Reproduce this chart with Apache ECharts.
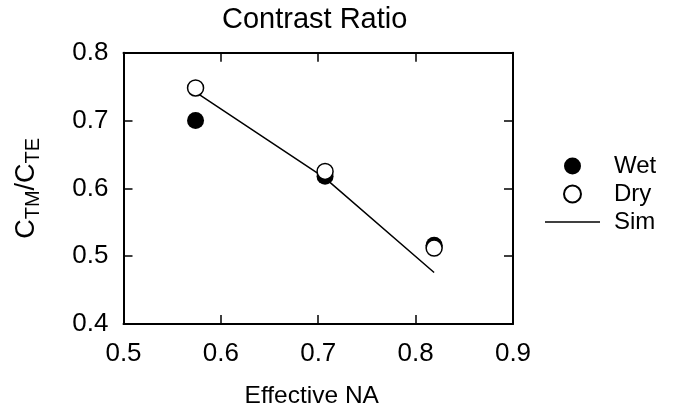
<!DOCTYPE html>
<html lang="en">
<head>
	<meta charset="UTF-8">
	<title>Contrast Ratio</title>
	<style>
		html, body { margin: 0; padding: 0; background: #fff; }
	</style>
</head>
<body>
	<div id="chart" style="width:676px;height:415px;"></div>
<script src="https://cdn.jsdelivr.net/npm/echarts@6/dist/echarts.min.js"></script>
<script>
	// data
	var naValues = [0.574, 0.707, 0.819];
	var wetValues = [0.700, 0.618, 0.516];
	var dryValues = [0.748, 0.625, 0.512];
	var simValues = [0.742, 0.615, 0.476];
	var seriesNames = ['Wet', 'Dry', 'Sim'];

	var font = 'Liberation Sans, Arial, sans-serif';

	function pairs(xs, ys) {
		var out = [];
		for (var i = 0; i < xs.length; i++) out.push([xs[i], ys[i]]);
		return out;
	}

	var chart = echarts.init(document.getElementById('chart'));
	var tick = { show: true, inside: true, length: 9, lineStyle: { color: '#000', width: 1.5 } };
	var axisLine = { show: true, onZero: false, lineStyle: { color: '#000', width: 2 } };

	var option = {
		animation: false,
		backgroundColor: '#fff',
		title: {
			text: 'Contrast Ratio',
			left: 217,
			top: 0,
			textStyle: { fontFamily: font, fontSize: 29, fontWeight: 'normal', color: '#000' }
		},
		legend: {
			orient: 'vertical',
			left: 540,
			top: 149,
			itemWidth: 55,
			itemHeight: 17,
			itemGap: 4,
			data: [
				{ name: seriesNames[0] },
				{ name: seriesNames[1] },
				{ name: seriesNames[2], icon: 'path://M0,0 L55,0 L55,1.5 L0,1.5 Z' }
			],
			textStyle: { fontFamily: font, fontSize: 24, color: '#000', padding: [0, 0, 0, 9] }
		},
		grid: { left: 123.5, right: 163, top: 52.7, bottom: 91 },
		xAxis: [{
			type: 'value', min: 0.5, max: 0.9, interval: 0.1,
			name: 'Effective NA', nameLocation: 'middle', nameGap: 60,
			nameTextStyle: { fontFamily: font, fontSize: 24.5, color: '#000', padding: [0, 13, 0, 0] },
			axisLine: axisLine, axisTick: tick, splitLine: { show: false },
			axisLabel: { fontFamily: font, fontSize: 26, color: '#000', margin: 17,
				formatter: function (v) { return v.toFixed(1); } }
		}, {
			type: 'value', position: 'top', min: 0.5, max: 0.9, interval: 0.1,
			axisLine: axisLine, axisTick: tick, splitLine: { show: false }, axisLabel: { show: false }
		}],
		yAxis: [{
			type: 'value', min: 0.4, max: 0.8, interval: 0.1,
			name: '{c|C}{s|TM}{c|/C}{s|TE}', nameLocation: 'middle', nameGap: 80, nameRotate: 90,
			nameTextStyle: {
				fontFamily: font, color: '#000',
				rich: {
					c: { fontFamily: font, fontSize: 27, color: '#000' },
					s: { fontFamily: font, fontSize: 20, color: '#000', padding: [14, 0, 0, 0] }
				}
			},
			axisLine: axisLine, axisTick: tick, splitLine: { show: false },
			axisLabel: { fontFamily: font, fontSize: 26, color: '#000', margin: 15,
				formatter: function (v) { return v.toFixed(1); } }
		}, {
			type: 'value', position: 'right', min: 0.4, max: 0.8, interval: 0.1,
			axisLine: axisLine, axisTick: tick, splitLine: { show: false }, axisLabel: { show: false }
		}],
		series: [{
			name: 'Wet', type: 'scatter', symbol: 'circle', symbolSize: 17,
			itemStyle: { color: '#000', opacity: 1 },
			data: pairs(naValues, wetValues), z: 3
		}, {
			name: 'Dry', type: 'scatter', symbol: 'circle', symbolSize: 16,
			itemStyle: { color: '#fff', borderColor: '#000', borderWidth: 1.5, opacity: 1 },
			data: pairs(naValues, dryValues), z: 4
		}, {
			name: 'Sim', type: 'line', showSymbol: false, symbol: 'none',
			lineStyle: { color: '#000', width: 1.5 },
			itemStyle: { color: '#000' },
			data: pairs(naValues, simValues), z: 2
		}]
	};
	chart.setOption(option);
</script>
</body>
</html>
